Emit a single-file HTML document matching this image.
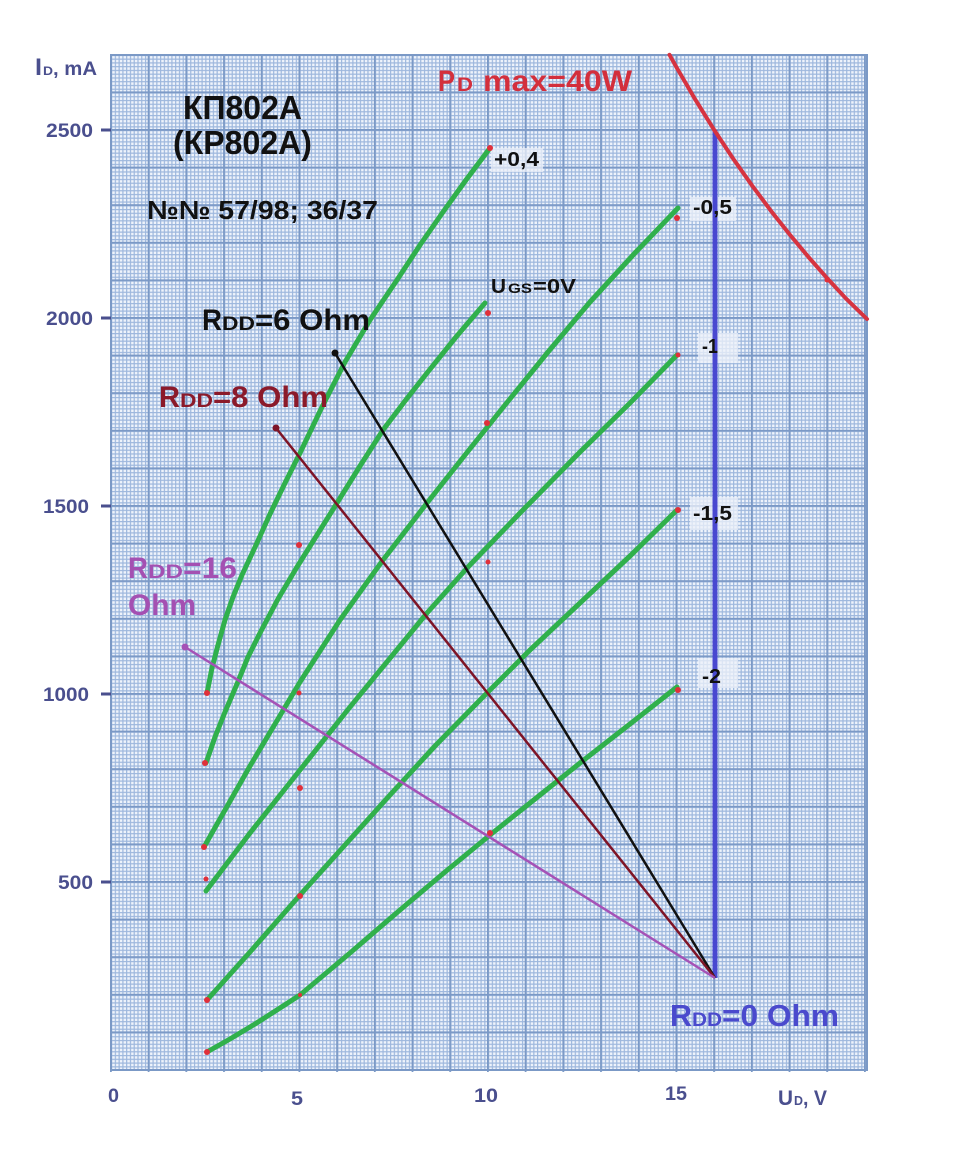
<!DOCTYPE html>
<html><head><meta charset="utf-8"><style>
html,body{margin:0;padding:0;background:#fff;}
svg{display:block;}
text{font-family:"Liberation Sans","DejaVu Sans",sans-serif;font-weight:bold;}
</style></head><body>
<svg width="957" height="1173" viewBox="0 0 957 1173" xmlns="http://www.w3.org/2000/svg">
<defs>
<pattern id="minor" patternUnits="userSpaceOnUse" x="111" y="54.8" width="3.77" height="3.76">
<rect width="3.77" height="3.76" fill="#eef3fb"/>
<rect x="0" y="0" width="1.2" height="3.76" fill="#9db7dd"/>
<rect x="0" y="0" width="3.77" height="1.2" fill="#9db7dd"/>
</pattern>
<pattern id="major" patternUnits="userSpaceOnUse" x="110" y="53.8" width="37.7" height="37.6">
<rect x="0" y="0" width="1.8" height="37.6" fill="#7b99c6"/>
<rect x="0" y="0" width="37.7" height="1.8" fill="#7b99c6"/>
</pattern>
</defs>
<rect width="957" height="1173" fill="#fff"/>
<rect x="111" y="55" width="757" height="1016" fill="url(#minor)"/>
<rect x="110" y="54" width="758" height="1018" fill="url(#major)"/>
<rect x="111" y="55" width="756" height="1015" fill="none" stroke="#7b99c6" stroke-width="2"/>

<!-- label boxes -->
<g fill="rgba(238,242,250,0.75)">
<rect x="491" y="148" width="52" height="24"/>
<rect x="690" y="197" width="46" height="24"/>
<rect x="698" y="333" width="40" height="30"/>
<rect x="690" y="497" width="48" height="33"/>
<rect x="698" y="658" width="40" height="30"/>
</g>

<!-- green curves -->
<g fill="none" stroke="#30b04c" stroke-width="5" stroke-linecap="round" stroke-linejoin="round">
<polyline points="207,693 212,668 218,645 225,620 233,597 242,575 256,545 270,514 285,483 300,453 322,407 345,362 370,320 397,280 420,245 443,212 466,180 490,148"/>
<polyline points="206,763 215,737 225,712 237,684 248,657 260,633 278,599 297,567 317,535 337,503 360,466 383,430 405,401 427,373 456,337 485,303"/>
<polyline points="204,847 250,766 300,682 340,620 383,560 427,503 465,455 505,405 548,352 590,302 634,254 678,208"/>
<polyline points="206,891 250,833 300,770 350,707 400,646 427,613 468,567 520,513 580,452 630,403 677,355"/>
<polyline points="207,1000 250,952 300,895 345,845 390,795 435,746 483,697 530,650 580,603 630,556 677,510"/>
<polyline points="207,1052 230,1039 255,1024 280,1008 300,995 350,953 400,910 445,872 490,835 535,799 580,763 630,724 677,687"/>
</g>

<!-- blue vertical -->
<line x1="715" y1="130" x2="715" y2="978" stroke="#4848d0" stroke-width="5"/>

<!-- load lines -->
<line x1="335" y1="353" x2="715" y2="978" stroke="#111" stroke-width="2.5"/>
<line x1="276" y1="428" x2="715" y2="978" stroke="#7e1426" stroke-width="2.5"/>
<line x1="185" y1="647" x2="715" y2="978" stroke="#a552b6" stroke-width="2.5"/>
<circle cx="335" cy="353" r="3.5" fill="#111"/>
<circle cx="276" cy="428" r="3.5" fill="#7e1426"/>
<circle cx="185" cy="647" r="3.5" fill="#a552b6"/>

<!-- red Pd curve -->
<polyline fill="none" stroke="#d63340" stroke-width="4" stroke-linecap="round" stroke-linejoin="round" points="669.5,54.8 676.5,67.3 695.4,99.7 714.2,130 733.05,158.5 751.9,185.3 770.75,210.6 789.6,234.4 808.45,257 827.3,278.4 846.15,298.7 867,319"/>

<!-- red dots -->
<g fill="#e0303a">
<circle cx="207" cy="693" r="3"/><circle cx="205" cy="763" r="3"/><circle cx="204" cy="847" r="3"/>
<circle cx="206" cy="879" r="2.5"/><circle cx="207" cy="1000" r="3"/><circle cx="207" cy="1052" r="3"/>
<circle cx="299" cy="545" r="3"/><circle cx="299" cy="693" r="2.5"/><circle cx="300" cy="788" r="3"/>
<circle cx="300" cy="896" r="3"/><circle cx="300" cy="995" r="2"/>
<circle cx="490" cy="148" r="3"/><circle cx="488" cy="313" r="3"/><circle cx="487" cy="423" r="3"/>
<circle cx="488" cy="562" r="2.5"/><circle cx="490" cy="833" r="3"/>
<circle cx="677" cy="218" r="3"/><circle cx="678" cy="355" r="2.5"/><circle cx="678" cy="510" r="3"/><circle cx="678" cy="690" r="3"/>
<circle cx="827" cy="280" r="2.5"/>
</g>

<!-- axis labels -->
<g fill="#4a4f8e">
<text x="35" y="75" font-size="24" textLength="7" lengthAdjust="spacingAndGlyphs">I</text>
<text x="43" y="75" font-size="12" textLength="10" lengthAdjust="spacingAndGlyphs">D</text>
<text x="53" y="75" font-size="19" textLength="44" lengthAdjust="spacingAndGlyphs">, mA</text>
<text x="46" y="137" font-size="19" textLength="47" lengthAdjust="spacingAndGlyphs">2500</text>
<text x="46" y="325" font-size="19" textLength="47" lengthAdjust="spacingAndGlyphs">2000</text>
<text x="43" y="513" font-size="19" textLength="46" lengthAdjust="spacingAndGlyphs">1500</text>
<text x="43" y="701" font-size="19" textLength="46" lengthAdjust="spacingAndGlyphs">1000</text>
<text x="58" y="889" font-size="19" textLength="35" lengthAdjust="spacingAndGlyphs">500</text>
<text x="108" y="1102" font-size="19" textLength="11" lengthAdjust="spacingAndGlyphs">0</text>
<text x="291" y="1105" font-size="19" textLength="12" lengthAdjust="spacingAndGlyphs">5</text>
<text x="474" y="1102" font-size="19" textLength="24" lengthAdjust="spacingAndGlyphs">10</text>
<text x="665" y="1100" font-size="19" textLength="22" lengthAdjust="spacingAndGlyphs">15</text>
<text x="778" y="1105" font-size="21" textLength="15" lengthAdjust="spacingAndGlyphs">U</text>
<text x="794" y="1105" font-size="13" textLength="9" lengthAdjust="spacingAndGlyphs">D</text>
<text x="803" y="1105" font-size="21" textLength="24" lengthAdjust="spacingAndGlyphs">, V</text>
</g>
<g stroke="#4a4f8e" stroke-width="3">
<line x1="101" y1="130" x2="111" y2="130"/>
<line x1="101" y1="318" x2="111" y2="318"/>
<line x1="101" y1="506" x2="111" y2="506"/>
<line x1="101" y1="694" x2="111" y2="694"/>
<line x1="101" y1="882" x2="111" y2="882"/>
</g>

<!-- titles -->
<g fill="#111">
<text x="183" y="119" font-size="33" textLength="119" lengthAdjust="spacingAndGlyphs">КП802А</text>
<text x="173" y="154" font-size="33" textLength="139" lengthAdjust="spacingAndGlyphs">(КР802А)</text>
<text x="147" y="219" font-size="26" textLength="231" lengthAdjust="spacingAndGlyphs">№№ 57/98; 36/37</text>
</g>

<!-- Pd max -->
<g fill="#d32f3c">
<text x="438" y="91" font-size="30" textLength="17" lengthAdjust="spacingAndGlyphs">P</text>
<text x="457" y="91" font-size="19" textLength="16" lengthAdjust="spacingAndGlyphs">D</text>
<text x="483" y="91" font-size="30" textLength="149" lengthAdjust="spacingAndGlyphs">max=40W</text>
</g>

<!-- gate labels -->
<g fill="#111">
<text x="491" y="293" font-size="20" textLength="15" lengthAdjust="spacingAndGlyphs">U</text>
<text x="508" y="293" font-size="14" textLength="24" lengthAdjust="spacingAndGlyphs">GS</text>
<text x="533" y="293" font-size="20" textLength="43" lengthAdjust="spacingAndGlyphs">=0V</text>
<text x="494" y="166" font-size="20" textLength="45" lengthAdjust="spacingAndGlyphs">+0,4</text>
<text x="693" y="214" font-size="20" textLength="39" lengthAdjust="spacingAndGlyphs">-0,5</text>
<text x="702" y="353" font-size="20" textLength="16" lengthAdjust="spacingAndGlyphs">-1</text>
<text x="693" y="520" font-size="20" textLength="39" lengthAdjust="spacingAndGlyphs">-1,5</text>
<text x="702" y="683" font-size="20" textLength="19" lengthAdjust="spacingAndGlyphs">-2</text>
</g>

<!-- R labels -->
<g fill="#111">
<text x="202" y="330" font-size="30" textLength="20" lengthAdjust="spacingAndGlyphs">R</text>
<text x="222" y="330" font-size="19" textLength="33" lengthAdjust="spacingAndGlyphs">DD</text>
<text x="255" y="330" font-size="30" textLength="115" lengthAdjust="spacingAndGlyphs">=6 Ohm</text>
</g>
<g fill="#8b1a2a">
<text x="159" y="407" font-size="30" textLength="21" lengthAdjust="spacingAndGlyphs">R</text>
<text x="180" y="407" font-size="19" textLength="33" lengthAdjust="spacingAndGlyphs">DD</text>
<text x="213" y="407" font-size="30" textLength="115" lengthAdjust="spacingAndGlyphs">=8 Ohm</text>
</g>
<g fill="#a450b2">
<text x="128" y="578" font-size="30" textLength="20" lengthAdjust="spacingAndGlyphs">R</text>
<text x="148" y="578" font-size="19" textLength="35" lengthAdjust="spacingAndGlyphs">DD</text>
<text x="183" y="578" font-size="30" textLength="54" lengthAdjust="spacingAndGlyphs">=16</text>
<text x="128" y="615" font-size="30" textLength="68" lengthAdjust="spacingAndGlyphs">Ohm</text>
</g>
<g fill="#4a4acd">
<text x="670" y="1026" font-size="31" textLength="22" lengthAdjust="spacingAndGlyphs">R</text>
<text x="692" y="1026" font-size="19" textLength="30" lengthAdjust="spacingAndGlyphs">DD</text>
<text x="722" y="1026" font-size="31" textLength="117" lengthAdjust="spacingAndGlyphs">=0 Ohm</text>
</g>
</svg>
</body></html>
